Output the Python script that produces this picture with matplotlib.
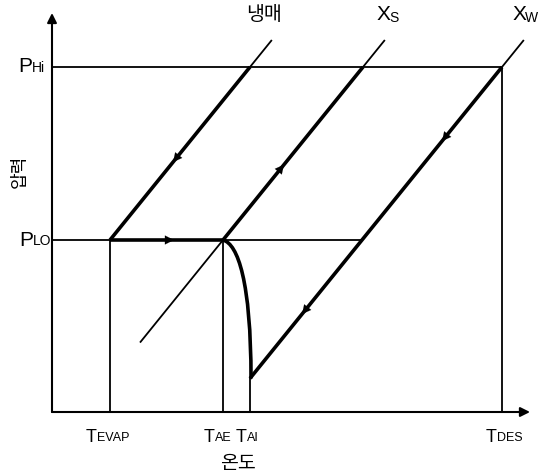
import numpy as np
import matplotlib.pyplot as plt
from matplotlib.path import Path
from matplotlib.patches import PathPatch

# 상태점 (온도축 / 압력축 위치)
t_evap, t_ae, t_ai, t_des = 58, 171, 198, 450
p_lo, p_hi = 172, 345
slope = 173 / 140          # 등농도선 기울기
y_top = 372                # 등농도선 위쪽 끝
xs_low_t = 88              # Xs 선 아래쪽 끝

latin = ['Liberation Sans Narrow', 'Liberation Sans', 'DejaVu Sans']
hangul = ['Noto Sans CJK KR', 'DejaVu Sans']

fig = plt.figure(figsize=(5.43, 4.72), dpi=100)
ax = fig.add_axes([0, 0, 1, 1])
ax.set_xlim(-52, 491)
ax.set_ylim(-60, 412)
ax.axis('off')

def t_on(t0, p0, p):
    return t0 + (p - p0) / slope

k = dict(color='black', solid_capstyle='butt')
thin, thick = 1.3, 2.6

# 축
for tip in [(478, 0), (0, 399)]:
    ax.annotate('', xy=tip, xytext=(0, 0),
                arrowprops=dict(arrowstyle='-|>', lw=1.5, color='black', mutation_scale=14,
                                shrinkA=0, shrinkB=0))

# 압력선
ax.plot([0, t_des], [p_hi, p_hi], lw=thin, **k)
x_w_lo = t_on(t_des, p_hi, p_lo)
ax.plot([0, t_evap], [p_lo, p_lo], lw=thin, **k)
ax.plot([t_evap, t_ae], [p_lo, p_lo], lw=thick, **k)
ax.plot([t_ae, x_w_lo], [p_lo, p_lo], lw=thin, **k)

# Xw 선 아래쪽 끝
p_w_low = p_hi + (t_ai - t_des) * slope

# 온도선
ax.plot([t_evap, t_evap], [0, p_lo], lw=thin, **k)
ax.plot([t_ae, t_ae], [0, p_lo], lw=thin, **k)
ax.plot([t_ai, t_ai], [0, p_w_low], lw=thin, **k)
ax.plot([t_des, t_des], [0, p_hi], lw=thin, **k)

# 냉매선
ax.plot([t_evap, t_on(t_evap, p_lo, p_hi)], [p_lo, p_hi], lw=thick, **k)
ax.plot([t_on(t_evap, p_lo, p_hi), t_on(t_evap, p_lo, y_top)], [p_hi, y_top], lw=thin, **k)

# Xs 선
ax.plot([xs_low_t, t_ae], [p_lo + (xs_low_t - t_ae) * slope, p_lo], lw=thin, **k)
ax.plot([t_ae, t_on(t_ae, p_lo, p_hi)], [p_lo, p_hi], lw=thick, **k)
ax.plot([t_on(t_ae, p_lo, p_hi), t_on(t_ae, p_lo, y_top)], [p_hi, y_top], lw=thin, **k)

# Xw 선
ax.plot([t_ai, t_des], [p_w_low, p_hi], lw=thick, **k)
ax.plot([t_des, t_on(t_des, p_hi, y_top)], [p_hi, y_top], lw=thin, **k)

# 흡수 곡선 (TAE -> TAI)
verts = [(t_ae, p_lo), (t_ae + 15, p_lo - 4), (t_ai + 1, p_lo - 42), (t_ai + 1, p_w_low)]
codes = [Path.MOVETO, Path.CURVE4, Path.CURVE4, Path.CURVE4]
ax.add_patch(PathPatch(Path(verts, codes), fill=False, lw=thick, edgecolor='black'))

# 방향 화살표
def head(x, y, dx, dy):
    n = np.hypot(dx, dy)
    ax.annotate('', xy=(x, y), xytext=(x - dx / n * 4, y - dy / n * 4),
                arrowprops=dict(arrowstyle='-|>', lw=0.1, color='black', mutation_scale=16,
                                shrinkA=0, shrinkB=0))

head(121, p_lo + (121 - t_evap) * slope, -1, -slope)
head(232, p_lo + (232 - t_ae) * slope, 1, slope)
head(390, p_hi + (390 - t_des) * slope, -1, -slope)
head(250, p_hi + (250 - t_des) * slope, -1, -slope)
head(122, p_lo, 1, 0)

# 라벨
ax.text(-20, p_hi, 'P', fontsize=15, family=latin, ha='right', va='center')
ax.text(-20, p_hi - 1, 'Hi', fontsize=10, family=latin, ha='left', va='center')
ax.text(-19, p_lo, 'P', fontsize=15, family=latin, ha='right', va='center')
ax.text(-19, p_lo - 1, 'LO', fontsize=10, family=latin, ha='left', va='center')

def tlab(x, sub):
    ax.text(x, -25, 'T', fontsize=13, family=latin, ha='right', va='center')
    ax.text(x, -26, sub, fontsize=9, family=latin, ha='left', va='center')

tlab(45, 'EVAP')
tlab(163, 'AE')
tlab(195, 'AI')
tlab(445, 'DES')

ax.text(186, -51, '온도', fontsize=14, family=hangul, ha='center', va='center')
ax.text(-32, 241, '압력', fontsize=13, family=hangul, ha='center', va='center', rotation=90)
ax.text(212, 398, '냉매', fontsize=14, family=hangul, ha='center', va='center')

ax.text(331, 397, 'X', fontsize=15, family=latin, ha='center', va='center')
ax.text(337, 394, 'S', fontsize=10, family=latin, ha='left', va='center')
ax.text(467, 397, 'X', fontsize=15, family=latin, ha='center', va='center')
ax.text(473, 394, 'W', fontsize=10, family=latin, ha='left', va='center')

fig.savefig('out.png', dpi=100)
